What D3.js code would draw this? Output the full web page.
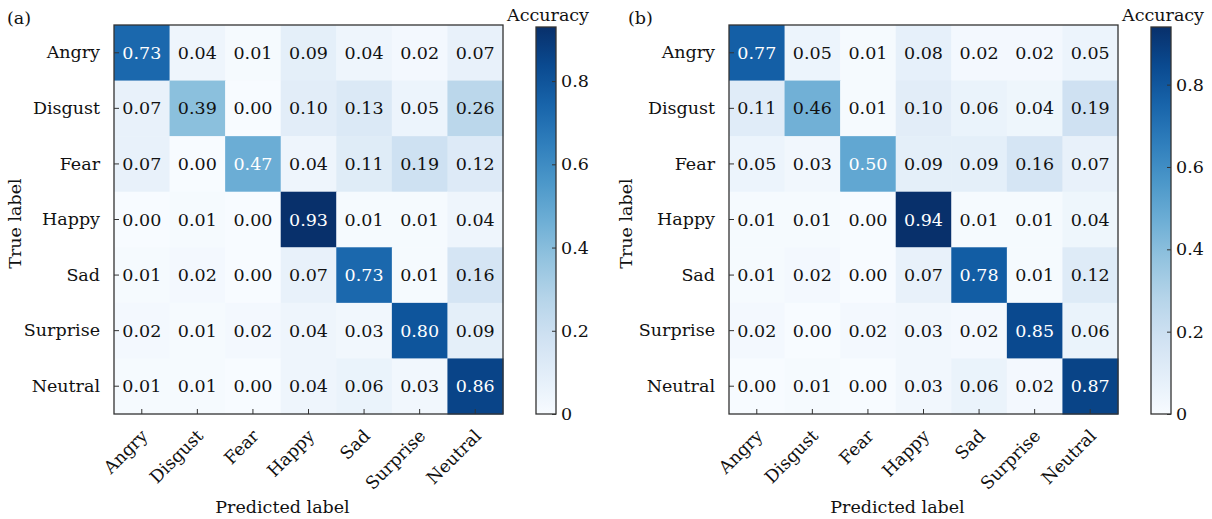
<!DOCTYPE html>
<html>
<head>
<meta charset="utf-8">
<script src="https://cdn.jsdelivr.net/npm/d3@7"></script>
<style>
body{margin:0;background:#fff;}
svg text{font-family:"DejaVu Serif",serif;fill:#111;}
.axis path{display:none;}
.axis line{stroke:#333;}
</style>
</head>
<body>
<div id="chart"></div>
<script>
var labels=['Angry','Disgust','Fear','Happy','Sad','Surprise','Neutral'];

var accA=[
    [0.73,0.04,0.01,0.09,0.04,0.02,0.07],
    [0.07,0.39,0.00,0.10,0.13,0.05,0.26],
    [0.07,0.00,0.47,0.04,0.11,0.19,0.12],
    [0.00,0.01,0.00,0.93,0.01,0.01,0.04],
    [0.01,0.02,0.00,0.07,0.73,0.01,0.16],
    [0.02,0.01,0.02,0.04,0.03,0.80,0.09],
    [0.01,0.01,0.00,0.04,0.06,0.03,0.86]
];
var accB=[
    [0.77,0.05,0.01,0.08,0.02,0.02,0.05],
    [0.11,0.46,0.01,0.10,0.06,0.04,0.19],
    [0.05,0.03,0.50,0.09,0.09,0.16,0.07],
    [0.01,0.01,0.00,0.94,0.01,0.01,0.04],
    [0.01,0.02,0.00,0.07,0.78,0.01,0.12],
    [0.02,0.00,0.02,0.03,0.02,0.85,0.06],
    [0.00,0.01,0.00,0.03,0.06,0.02,0.87]
];
var cbTicks=[0,0.2,0.4,0.6,0.8];

var svg=d3.select('#chart')
    .append('svg')
    .attr('width',1212)
    .attr('height',519);

var defs=svg.append('defs');

ConfMatrix=function(_tag,_data,_left,_labelX){
    this.tag=_tag;
    this.data=_data;
    this.left=_left;
    this.labelX=_labelX;
    this.initVis();
};

ConfMatrix.prototype.initVis=function(){
    var vis=this;
    vis.top=25;
    vis.size=389;
    vis.maxVal=d3.max(vis.data,function(r){return d3.max(r);});

    vis.g=svg.append('g')
        .attr('transform','translate('+vis.left+','+vis.top+')');

    vis.x=d3.scaleBand().domain(labels).range([0,vis.size]);
    vis.y=d3.scaleBand().domain(labels).range([0,vis.size]);
    vis.color=function(v){return d3.interpolateBlues(v/vis.maxVal);};

    var cells=[];
    vis.data.forEach(function(row,i){
        row.forEach(function(v,j){
            cells.push({t:labels[i],p:labels[j],value:v});
        });
    });

    vis.g.selectAll('rect.cell')
        .data(cells)
        .enter()
        .append('rect')
        .attr('class','cell')
        .attr('x',function(d){return vis.x(d.p);})
        .attr('y',function(d){return vis.y(d.t);})
        .attr('width',vis.x.bandwidth()+0.5)
        .attr('height',vis.y.bandwidth()+0.5)
        .attr('fill',function(d){return vis.color(d.value);});

    vis.g.selectAll('text.num')
        .data(cells)
        .enter()
        .append('text')
        .attr('class','num')
        .attr('x',function(d){return vis.x(d.p)+vis.x.bandwidth()/2;})
        .attr('y',function(d){return vis.y(d.t)+vis.y.bandwidth()/2;})
        .attr('text-anchor','middle')
        .attr('dominant-baseline','central')
        .style('font-size','17.5px')
        .style('fill',function(d){return d.value>vis.maxVal/2?'#fff':'#111';})
        .text(function(d){return d.value.toFixed(2);});

    vis.g.append('rect')
        .attr('width',vis.size)
        .attr('height',vis.size)
        .attr('fill','none')
        .attr('stroke','#333')
        .attr('stroke-width',1.3);

    var yAxis=d3.axisLeft(vis.y).tickSize(-5).tickPadding(14);
    vis.g.append('g')
        .attr('class','axis')
        .call(yAxis)
        .selectAll('text')
        .style('font-size','17.5px');

    var xAxis=d3.axisBottom(vis.x).tickSize(-5);
    vis.g.append('g')
        .attr('class','axis')
        .attr('transform','translate(0,'+vis.size+')')
        .call(xAxis)
        .selectAll('text')
        .attr('y',0)
        .attr('dy',null)
        .attr('text-anchor','end')
        .attr('transform','translate(7,23) rotate(-45)')
        .style('font-size','17.5px');

    vis.g.append('text')
        .attr('x',vis.size/2-26)
        .attr('y',vis.size+99)
        .attr('text-anchor','middle')
        .style('font-size','17.5px')
        .text('Predicted label');

    svg.append('text')
        .attr('transform','translate('+vis.labelX+','+(vis.top+vis.size/2+4)+') rotate(-90)')
        .attr('text-anchor','middle')
        .style('font-size','17.5px')
        .text('True label');

    svg.append('text')
        .attr('x',vis.left-(vis.tag=='a'?107:101))
        .attr('y',24)
        .style('font-size','17.5px')
        .text('('+vis.tag+')');

    vis.drawColorbar();
};

ConfMatrix.prototype.drawColorbar=function(){
    var vis=this;
    var cbX=vis.left+vis.size+33, cbW=20, cbTop=27, cbBottom=vis.top+vis.size;

    var grad=defs.append('linearGradient')
        .attr('id','grad-'+vis.tag)
        .attr('x1',0).attr('y1',1).attr('x2',0).attr('y2',0);
    d3.range(0,1.0001,0.1).forEach(function(t){
        grad.append('stop')
            .attr('offset',t)
            .attr('stop-color',d3.interpolateBlues(t));
    });

    var cb=svg.append('g').attr('transform','translate('+cbX+',0)');
    cb.append('rect')
        .attr('y',cbTop)
        .attr('width',cbW)
        .attr('height',cbBottom-cbTop)
        .attr('fill','url(#grad-'+vis.tag+')')
        .attr('stroke','#333')
        .attr('stroke-width',1.3);

    var cy=d3.scaleLinear().domain([0,vis.maxVal]).range([cbBottom,cbTop]);
    cb.append('g')
        .attr('class','axis')
        .attr('transform','translate('+cbW+',0)')
        .call(d3.axisRight(cy).tickValues(cbTicks).tickSize(-4).tickPadding(5)
            .tickFormat(function(d){return d===0?'0':d.toFixed(1);}))
        .selectAll('text')
        .style('font-size','17.5px');

    cb.append('text')
        .attr('x',cbW/2+2)
        .attr('y',21)
        .attr('text-anchor','middle')
        .style('font-size','17.5px')
        .text('Accuracy');
};

new ConfMatrix('a',accA,114,21);
new ConfMatrix('b',accB,729,632);
</script>
</body>
</html>
